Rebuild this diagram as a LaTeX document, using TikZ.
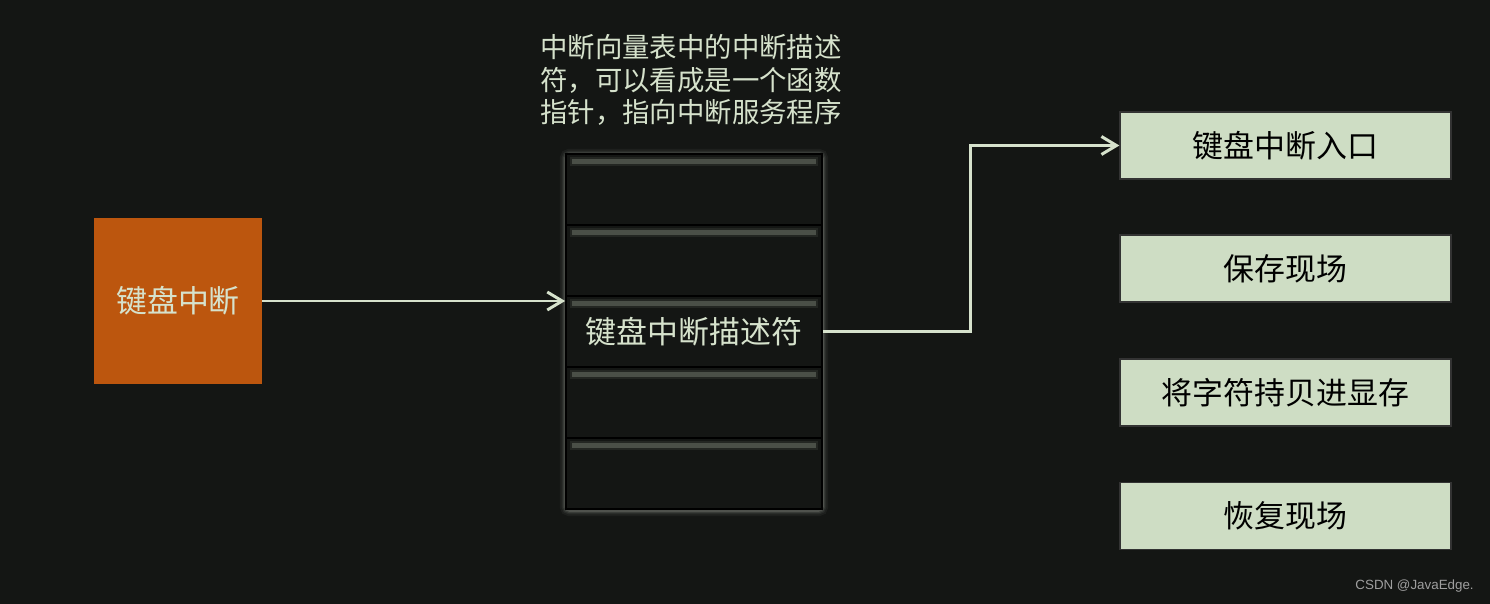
\documentclass[tikz,border=0pt]{standalone}
\usepackage{fontspec}
\setmainfont{Noto Sans CJK SC}
\newfontfamily\wmfont{Liberation Sans}
\usetikzlibrary{arrows.meta,positioning}
\definecolor{figBg}{RGB}{20,22,20}
\definecolor{figO}{RGB}{188,86,14}
\definecolor{figG}{RGB}{206,221,196}
\definecolor{figT}{RGB}{214,226,204}

\begin{document}
\begin{tikzpicture}[x=0.02cm,y=-0.02cm,>={Straight Barb[length=3mm,width=3.6mm]},
  txt/.style={font=\fontsize{17.6}{20}\selectfont,inner sep=0pt},
  src/.style={txt,fill=figO,text=figT,minimum width=3.36cm,minimum height=3.32cm},
  slot/.style={txt,draw=black,line width=1pt,fill=figBg,text=figT,minimum width=5.12cm,minimum height=1.42cm},
  step box/.style={txt,draw=black!80,line width=0.8pt,fill=figG,text=black,minimum width=6.62cm,minimum height=1.34cm},
  link/.style={figT,line width=1.7pt,->}]
\fill[figBg] (0,0) rectangle (1490,604);
% keyboard interrupt
\node[src] (kbd) at (178,301) {键盘中断};
% interrupt vector table (soft glow first)
\foreach \w/\o in {7pt/0.06,5pt/0.08,3.5pt/0.12,2pt/0.18}
  \draw[figT!60!gray,line width=\w,opacity=\o,rounded corners=2pt] (566,155) rectangle (822,510);
\foreach \i in {1,...,5}
  \node[slot] (s\i) at (694,{154+71*(\i-0.5)}) {};
\foreach \i in {1,...,5} {
  \draw[figT,line width=5pt,opacity=0.08] ([shift={(3pt,-4.8pt)}]s\i.north west) -- ([shift={(-3pt,-4.8pt)}]s\i.north east);
  \draw[figT,line width=2.6pt,opacity=0.22] ([shift={(4pt,-4.8pt)}]s\i.north west) -- ([shift={(-4pt,-4.8pt)}]s\i.north east);
}
\node[txt,text=figT] (desc) at (s3) {键盘中断描述符};
\node[font=\fontsize{15.6}{18.4}\selectfont,text=figT,align=center,inner sep=0pt] (note) at (691,80) {中断向量表中的中断描述\\符，可以看成是一个函数\\指针，指向中断服务程序};
% handler steps
\node[step box] (entry) at (1285.5,145.5) {键盘中断入口};
\node[step box] (save) at (1285.5,268.5) {保存现场};
\node[step box] (copy) at (1285.5,392.5) {将字符持贝进显存};
\node[step box] (restore) at (1285.5,516) {恢复现场};
% connectors
\draw[link] (kbd.east) -- (kbd.east -| s3.west);
\draw[link] (s3.east) -- ++(148,0) |- (entry.west);
\node[font=\wmfont\fontsize{7.6}{9}\selectfont,text=gray!75,anchor=east,inner sep=0pt] (mark) at (1474,586) {CSDN @JavaEdge.};
\end{tikzpicture}
\end{document}
